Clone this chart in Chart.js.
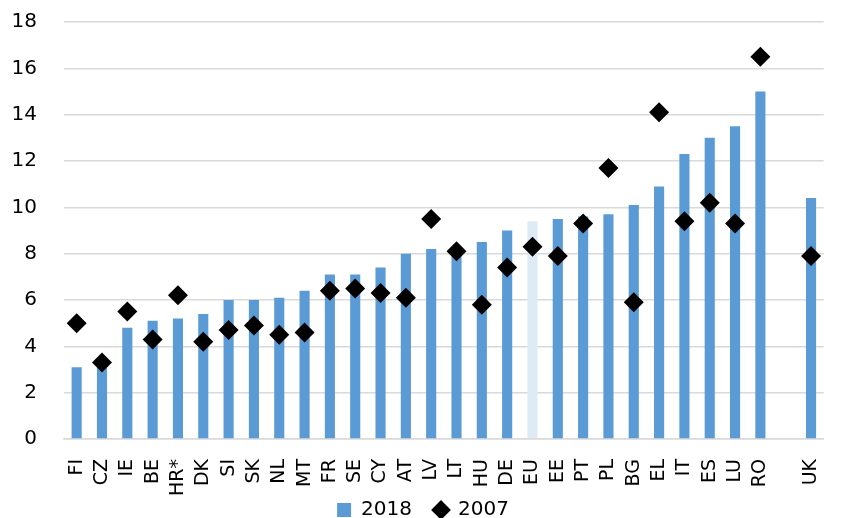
<!DOCTYPE html>
<html>
<head>
<meta charset="utf-8">
<script src="https://cdn.jsdelivr.net/npm/chart.js@4/dist/chart.umd.min.js"></script>
<style>
  html, body { margin: 0; padding: 0; background: #ffffff; }
  #wrap { width: 846px; height: 518px; }
</style>
</head>
<body>
<div id="wrap"><canvas id="c" width="846" height="518"></canvas></div>
<script>
const categories = ['FI','CZ','IE','BE','HR*','DK','SI','SK','NL','MT','FR','SE','CY','AT','LV','LT','HU','DE','EU','EE','PT','PL','BG','EL','IT','ES','LU','RO','','UK'];
const values2018 = [3.1,3.3,4.8,5.1,5.2,5.4,6.0,6.0,6.1,6.4,7.1,7.1,7.4,8.0,8.2,8.0,8.5,9.0,9.4,9.5,9.6,9.7,10.1,10.9,12.3,13.0,13.5,15.0,null,10.4];
const values2007 = [5.0,3.3,5.5,4.3,6.2,4.2,4.7,4.9,4.5,4.6,6.4,6.5,6.3,6.1,9.5,8.1,5.8,7.4,8.3,7.9,9.3,11.7,5.9,14.1,9.4,10.2,9.3,16.5,null,7.9];
const yTicks = [0,2,4,6,8,10,12,14,16,18];
const seriesNames = ['2018','2007'];

const barBlue = '#5B9BD5';
const euBlue = '#DEEBF7';
const barColors = categories.map(c => c === 'EU' ? euBlue : barBlue);

const legendShift = {
  id: 'legendShift',
  afterLayout(chart) {
    const lg = chart.legend;
    if (lg) { lg.top -= 17; lg.bottom -= 17; }
  }
};

new Chart(document.getElementById('c'), {
  data: {
    labels: categories,
    datasets: [
      {
        type: 'bar',
        label: seriesNames[0],
        data: values2018,
        backgroundColor: barColors,
        borderWidth: 0,
        barPercentage: 0.4,
        categoryPercentage: 1.0,
        pointStyle: 'rect',
        order: 2
      },
      {
        type: 'line',
        label: seriesNames[1],
        data: values2007,
        showLine: false,
        pointStyle: 'rectRot',
        pointRadius: 10,
        pointHoverRadius: 10,
        pointBackgroundColor: '#000000',
        pointBorderColor: '#000000',
        backgroundColor: '#000000',
        borderColor: '#000000',
        pointBorderWidth: 0,
        order: 1
      }
    ]
  },
  plugins: [legendShift],
  options: {
    responsive: false,
    animation: false,
    devicePixelRatio: 1,
    layout: { padding: { top: 22, right: 0, left: 0, bottom: -29 } },
    plugins: {
      tooltip: { enabled: false },
      legend: {
        position: 'bottom',
        labels: {
          usePointStyle: true,
          boxWidth: 14,
          boxHeight: 14,
          padding: 22,
          color: '#000000',
          font: { family: 'DejaVu Sans', size: 20 },
          sort: (a, b) => a.datasetIndex - b.datasetIndex
        }
      }
    },
    scales: {
      x: {
        grid: { display: false },
        border: { display: true, color: '#d9d9d9', width: 1.5 },
        ticks: {
          autoSkip: false,
          minRotation: 90,
          maxRotation: 90,
          padding: 12,
          color: '#000000',
          font: { family: 'DejaVu Sans', size: 19 }
        },
        afterFit: (s) => { s.height = 56; }
      },
      y: {
        min: 0,
        max: 18,
        afterBuildTicks: (s) => { s.ticks = yTicks.map(v => ({ value: v })); },
        grid: { color: '#d9d9d9', lineWidth: 1.5, drawTicks: false },
        border: { display: false },
        ticks: {
          padding: 27,
          color: '#000000',
          font: { family: 'DejaVu Sans', size: 20 }
        },
        afterFit: (s) => { s.width = 64; s.paddingTop = 0; }
      }
    }
  }
});
</script>
</body>
</html>
